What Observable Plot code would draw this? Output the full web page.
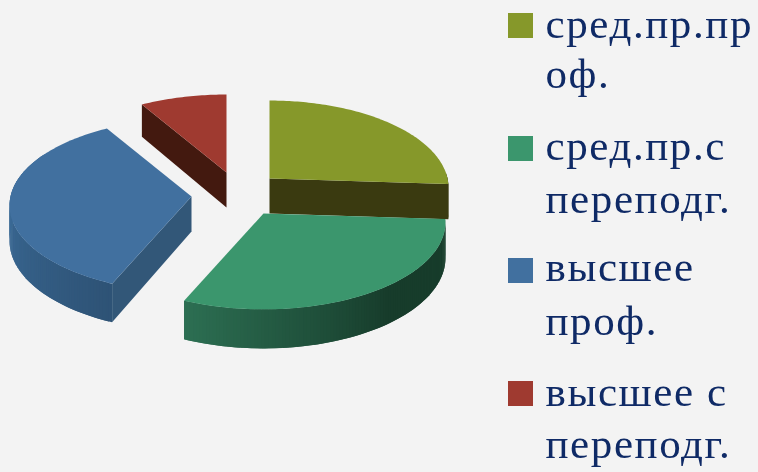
<!DOCTYPE html>
<html><head><meta charset="utf-8">
<script src="https://cdn.jsdelivr.net/npm/d3@7"></script>
<script src="https://cdn.jsdelivr.net/npm/@observablehq/plot@0.6"></script>
<style>
html,body{margin:0;padding:0;background:#f3f3f3;overflow:hidden}
svg{display:block;filter:blur(.45px)}
svg text{letter-spacing:1.6px}
</style></head><body><script>
const categories = ["сред.пр.проф.", "сред.пр.с переподг.", "высшее проф.", "высшее с переподг."];
const shares = [26, 30.5, 35, 8.5];
const topColors = ["#86982a", "#3b966d", "#41709f", "#9f3a30"];
const radialColors = ["#3a3a10", null, "#325778", "#43190f"];
const legendLines = [["сред.пр.пр", "оф."], ["сред.пр.с", "переподг."], ["высшее", "проф."], ["высшее с", "переподг."]];

const W = 758, H = 472, RY = 86, K = 0.103, DEPTH = 35;
const radiiX = [178, 181, 181, 181];
const centers = [[269,178],[263,213],[191,196],[226,172]];
const swatchTop = [13,136,258,381];
const baselines = [[40,90],[162,215],[283,337],[408,460]];
const rad = d => d * Math.PI / 180;
const project = (i, t) => {
  const c = centers[i];
  const p = 1 / (1 + K * Math.cos(rad(t)));
  return [c[0] + radiiX[i] * Math.sin(rad(t)) * p, c[1] - RY * Math.cos(rad(t)) * p, DEPTH * p];
};
const total = d3.sum(shares);
const ends = d3.cumsum(shares).map(v => v / total * 360);
const starts = ends.map((e,i) => i ? ends[i-1] : 0);

const wallColor = [
  () => "#3a3a10",
  d3.scaleLinear([ends[0], 140, starts[1]+108], ["#173c2b","#173c2b","#2c6e52"]),
  d3.scaleLinear([starts[2], 270, 300], ["#2e5376","#3b6a96","#3b6a96"]),
  () => "#43190f"
];
const polys = [];
let nid = 0;
const addPoly = (pts, color) => { const id = nid++; pts.forEach(([x,y]) => polys.push({id,x,y,color})); };

const slice = i => {
  const c = centers[i], a = starts[i], b = ends[i];
  const angs = d3.range(a, b, 1).concat(b);
  // outer wall strips, each overlapping the next so no seams show
  for (let j = 0; j + 1 < angs.length; j++) {
    const t0 = angs[j], t1 = angs[Math.min(j + 2, angs.length - 1)];
    if (t1 < 88 || t0 > 300) continue;
    const p0 = project(i,t0), p1 = project(i,t1);
    addPoly([[p0[0],p0[1]],[p1[0],p1[1]],[p1[0],p1[1]+p1[2]],[p0[0],p0[1]+p0[2]]], wallColor[i](t0));
  }
  // visible radial wall
  if (radialColors[i]) {
    const t = i === 0 ? b : a;
    const p = project(i,t);
    addPoly([[c[0],c[1]],[p[0],p[1]],[p[0],p[1]+p[2]],[c[0],c[1]+DEPTH]], radialColors[i]);
  }
  // top
  addPoly([[c[0],c[1]], ...angs.map(t => project(i,t).slice(0,2))], topColors[i]);
};
[3,2,0,1].forEach(slice);

const swatches = categories.map((name,i) => ({name, x1:508, x2:533, y1:swatchTop[i], y2:swatchTop[i]+25, color:topColors[i]}));
const lines = legendLines.flatMap((ls,i) => ls.map((text,j) => ({text, y:baselines[i][j]})));

const chart = Plot.plot({
  width: W, height: H, margin: 0,
  x: {domain:[0,W], range:[0,W], axis:null},
  y: {domain:[0,H], range:[0,H], axis:null},
  color: {type:"identity"},
  style: {background:"transparent"},
  marks: [
    Plot.line(polys, {x:"x", y:"y", z:"id", fill:"color", stroke:"none", curve:"linear-closed"}),
    Plot.rect(swatches, {x1:"x1", x2:"x2", y1:"y1", y2:"y2", fill:"color"}),
    Plot.text(lines, {x:()=>545, y:"y", text:"text", textAnchor:"start", lineAnchor:"bottom", dy:-3,
      fontFamily:"Liberation Serif", fontSize:43, fill:"#0f2a66", stroke:"none"})
  ]
});
document.body.appendChild(chart);
</script></body></html>
